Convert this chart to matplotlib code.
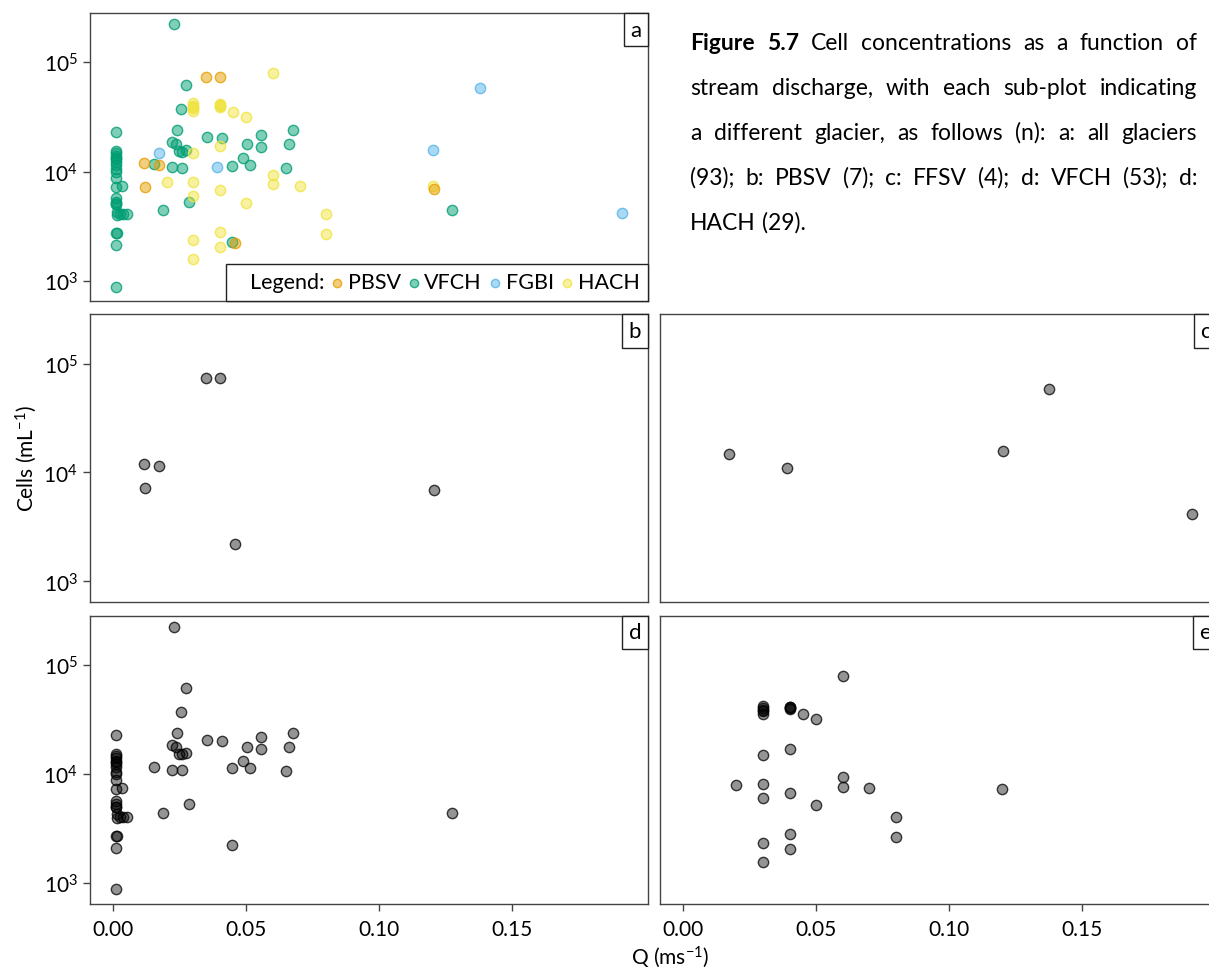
import matplotlib
matplotlib.use('Agg')
import matplotlib.pyplot as plt
from matplotlib.lines import Line2D
from matplotlib.offsetbox import AnchoredText

plt.rcParams['font.family'] = ['Lato', 'DejaVu Sans']
plt.rcParams['mathtext.fontset'] = 'custom'
plt.rcParams['mathtext.rm'] = 'Lato'
plt.rcParams['mathtext.it'] = 'Lato:italic'
plt.rcParams['mathtext.bf'] = 'Lato:bold'

# ---- data (Q in m/s, cells per mL) ----
pbsv_q = [0.0114, 0.0170, 0.0118, 0.0347, 0.0399, 0.0456, 0.1205]
pbsv_cells = [11970, 11500, 7250, 73200, 73200, 2210, 6900]

fgbi_q = [0.0172, 0.0391, 0.1201, 0.1377, 0.1913]
fgbi_cells = [14700, 11100, 15900, 58500, 4200]

vfch_q = [0.0227, 0.0271, 0.0253, 0.0008, 0.0238, 0.0350, 0.0408, 0.0556, 0.0503, 0.0556,
          0.0219, 0.0234, 0.0248, 0.0256, 0.0273, 0.0152, 0.0219, 0.0258, 0.0445, 0.0486,
          0.0512, 0.0185, 0.0286, 0.0444, 0.0008, 0.0676, 0.0660, 0.0650, 0.1274,
          0.0008, 0.0010, 0.0008, 0.0010, 0.0008, 0.0010, 0.0008, 0.0008, 0.0008, 0.0033,
          0.0008, 0.0010, 0.0008, 0.0012, 0.0024, 0.0037, 0.0050, 0.0008, 0.0012, 0.0008,
          0.0010, 0.0008, 0.0010, 0.0012]
vfch_cells = [223000, 62000, 37100, 22900, 24000, 20700, 20100, 21700, 17700, 16900,
              18500, 17700, 15400, 15200, 15600, 11600, 11000, 10800, 11300, 13200,
              11400, 4440, 5300, 2260, 880, 24000, 17900, 10700, 4440,
              15400, 14700, 14000, 13200, 12300, 11500, 9970, 8780, 7260, 7400,
              5690, 5300, 5040, 4290, 4060, 4060, 4060, 2720, 2720, 2120,
              13000, 10500, 5000, 4000]

hach_q = [0.06, 0.03, 0.03, 0.03, 0.03, 0.03, 0.04, 0.04, 0.04, 0.04,
          0.045, 0.05, 0.04, 0.03, 0.02, 0.03, 0.03, 0.04, 0.06, 0.06,
          0.07, 0.05, 0.08, 0.08, 0.04, 0.04, 0.03, 0.03, 0.12]
hach_cells = [79300, 42200, 40100, 39000, 37900, 35800, 41500, 40800, 40100, 39300,
              35300, 31800, 17100, 14900, 8020, 8070, 6000, 6730, 9350, 7690,
              7420, 5180, 4080, 2680, 2810, 2050, 2360, 1580, 7310]

glaciers = ['PBSV', 'VFCH', 'FGBI', 'HACH']
colours = {'PBSV': '#E69F00', 'VFCH': '#009E73', 'FGBI': '#56B4E9', 'HACH': '#F0E442'}
series = {'PBSV': (pbsv_q, pbsv_cells), 'VFCH': (vfch_q, vfch_cells),
          'FGBI': (fgbi_q, fgbi_cells), 'HACH': (hach_q, hach_cells)}

x_ticks = [0.0, 0.05, 0.10, 0.15]
x_labels = ['0.00', '0.05', '0.10', '0.15']
y_ticks = [1e3, 1e4, 1e5]
y_labels = [r'$\mathregular{10^{3}}$', r'$\mathregular{10^{4}}$', r'$\mathregular{10^{5}}$']

W, H = 1209, 970
fig = plt.figure(figsize=(W / 100, H / 100), dpi=100)

def px_axes(x0, y0, x1, y1):
    return fig.add_axes([x0 / W, 1 - y1 / H, (x1 - x0) / W, (y1 - y0) / H])

pw = 557.7
ax_a = px_axes(90.3, 14, 90.3 + pw, 302)
ax_b = px_axes(90.3, 315.3, 90.3 + pw, 602.7)
ax_c = px_axes(660, 315.3, 660 + pw, 602.7)
ax_d = px_axes(90.3, 616.7, 90.3 + pw, 904.5)
ax_e = px_axes(660, 616.7, 660 + pw, 904.5)

FS = 15
edge = '#444444'
for ax in (ax_a, ax_b, ax_c, ax_d, ax_e):
    ax.set_yscale('log')
    ax.set_xlim(-0.0087, 0.201)
    ax.set_ylim(652, 282800)
    ax.minorticks_off()
    for s in ax.spines.values():
        s.set_color(edge)
        s.set_linewidth(1.0)
    ax.tick_params(length=5, width=1, color=edge, labelsize=FS, pad=4)
    ax.set_xticks(x_ticks)
    ax.set_xticklabels(x_labels)
    ax.set_yticks(y_ticks)
    ax.set_yticklabels(y_labels)

for ax in (ax_a, ax_b, ax_c):
    ax.tick_params(axis='x', bottom=False, labelbottom=False)
for ax in (ax_c, ax_e):
    ax.tick_params(axis='y', left=False, labelleft=False)
for ax in (ax_d, ax_e):
    ax.tick_params(axis='x', pad=6)

# panel a: all glaciers, coloured
for g in ['VFCH', 'FGBI', 'HACH', 'PBSV']:
    q, c = series[g]
    ax_a.scatter(q, c, s=55, facecolor=matplotlib.colors.to_rgba(colours[g], 0.5),
                 edgecolor=matplotlib.colors.to_rgba(colours[g], 0.8), linewidth=1,
                 label=g, zorder=3)

handles, labels = ax_a.get_legend_handles_labels()
order = [labels.index(g) for g in glaciers]
dummy = Line2D([], [], linestyle='none')
leg = ax_a.legend([dummy] + [handles[i] for i in order], ['Legend:'] + glaciers,
                  ncol=5, loc='lower right', borderaxespad=0, frameon=True,
                  fancybox=False, framealpha=1, edgecolor='#222222', fontsize=15.5,
                  handlelength=0.4, handletextpad=0.3, columnspacing=0.4,
                  borderpad=0.4, markerscale=0.8, scatterpoints=1)
leg.get_frame().set_linewidth(1.0)

# panels b-e: single glacier, grey
grey_fc = (0, 0, 0, 0.42)
grey_ec = (0, 0, 0, 0.75)
for ax, g in ((ax_b, 'PBSV'), (ax_c, 'FGBI'), (ax_d, 'VFCH'), (ax_e, 'HACH')):
    q, c = series[g]
    ax.scatter(q, c, s=55, facecolor=grey_fc, edgecolor=grey_ec, linewidth=1, zorder=3)

for ax, lab in ((ax_a, 'a'), (ax_b, 'b'), (ax_c, 'c'), (ax_d, 'd'), (ax_e, 'e')):
    at = AnchoredText(lab, loc='upper right', borderpad=0, pad=0.3,
                      prop=dict(size=FS + 1), frameon=True)
    at.patch.set_boxstyle('square,pad=0')
    at.patch.set_edgecolor('#222222')
    at.patch.set_linewidth(1.0)
    at.zorder = 5
    ax.add_artist(at)

fig.text(670 / W, 1 - 957 / H, r'Q (ms$^{\mathregular{-1}}$)', fontsize=FS,
         ha='center', va='center')
fig.text(26 / W, 1 - 459 / H, r'Cells (mL$^{\mathregular{-1}}$)', fontsize=FS,
         ha='center', va='center', rotation=90)

# caption, justified
caption = ['Figure 5.7 Cell concentrations as a function of',
           'stream discharge, with each sub-plot indicating',
           'a different glacier, as follows (n): a: all glaciers',
           '(93); b: PBSV (7); c: FFSV (4); d: VFCH (53); d:',
           'HACH (29).']
cap_base = [50, 95, 140, 185, 230]
cap_x0, cap_x1 = 690, 1197
cap_fs = 16.5
renderer = fig.canvas.get_renderer()
for i, line in enumerate(caption):
    words = line.split(' ')
    texts = []
    for w in words:
        bold = i == 0 and w in ('Figure', '5.7')
        t = fig.text(0, 1 - cap_base[i] / H, w, fontsize=cap_fs,
                     fontweight='bold' if bold else 'normal', va='baseline', ha='left')
        texts.append(t)
    widths = [t.get_window_extent(renderer).width for t in texts]
    if i < len(caption) - 1:
        gap = (cap_x1 - cap_x0 - sum(widths)) / (len(words) - 1)
    else:
        gap = 0.26 * cap_fs * 100 / 72
    x = cap_x0
    for t, w in zip(texts, widths):
        t.set_x(x / W)
        x += w + gap

fig.savefig('out.png', dpi=100)
